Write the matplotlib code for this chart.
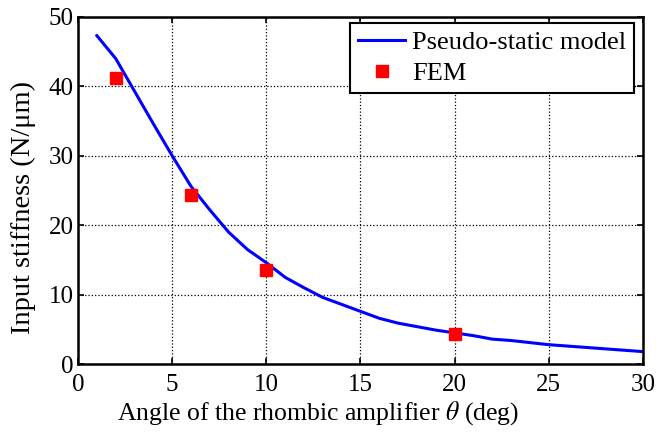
import numpy as np
import matplotlib
matplotlib.use("Agg")
import matplotlib.pyplot as plt

# Pseudo-static model curve
theta_model = [1, 2, 3, 4, 5, 6, 7, 8, 9, 10, 11, 12, 13, 14, 15,
               16, 17, 18, 19, 20, 21, 22, 23, 24, 25, 26, 27, 28, 29, 30]
k_model = [47.3, 44.0, 39.3, 34.6, 30.0, 25.6, 22.2, 19.0, 16.5, 14.6,
           12.5, 11.0, 9.6, 8.6, 7.6, 6.6, 5.9, 5.4, 4.9, 4.5,
           4.1, 3.6, 3.4, 3.1, 2.8, 2.6, 2.4, 2.2, 2.0, 1.8]

# FEM results
theta_fem = [2, 6, 10, 20]
k_fem = [41.2, 24.4, 13.6, 4.4]

plt.rcParams['font.family'] = ['Liberation Serif', 'DejaVu Serif']
plt.rcParams['mathtext.fontset'] = 'stix'

fig = plt.figure(figsize=(6.56, 4.34), dpi=100)
ax = fig.add_axes([0.119, 0.161, 0.861, 0.8])

ax.plot(theta_model, k_model, color='blue', lw=2.2, label='Pseudo-static model')
ax.plot(theta_fem, k_fem, 's', color='red', ms=8.5, label='FEM')

ax.set_xlim(0, 30)
ax.set_ylim(0, 50)
ax.set_xticks(np.arange(0, 31, 5))
ax.set_yticks(np.arange(0, 51, 10))
ax.grid(True, color='black', linestyle=':', lw=0.9)
ax.tick_params(direction='in', labelsize=18, length=4, width=1.2, top=True, right=True)
ax.tick_params(axis='x', pad=7)
ax.tick_params(axis='y', pad=3)
for s in ax.spines.values():
    s.set_linewidth(1.8)

ax.set_xlabel(r'Angle of the rhombic amplifier $\theta$ (deg)', fontsize=18.5)
ax.xaxis.set_label_coords(0.425, -0.1)
ax.set_ylabel('Input stiffness (N/\u03bcm)', fontsize=20.5)
ax.yaxis.set_label_coords(-0.075, 0.45)

leg = ax.legend(loc='upper right', fontsize=19, fancybox=False, edgecolor='black',
                framealpha=1, borderaxespad=0, handlelength=1.8, handletextpad=0.25,
                labelspacing=0.3, borderpad=0.3,
                bbox_to_anchor=(634 / 656, 1 - 22.7 / 434), bbox_transform=fig.transFigure)
leg.get_frame().set_linewidth(1.5)

fig.savefig('out.png', dpi=100)
